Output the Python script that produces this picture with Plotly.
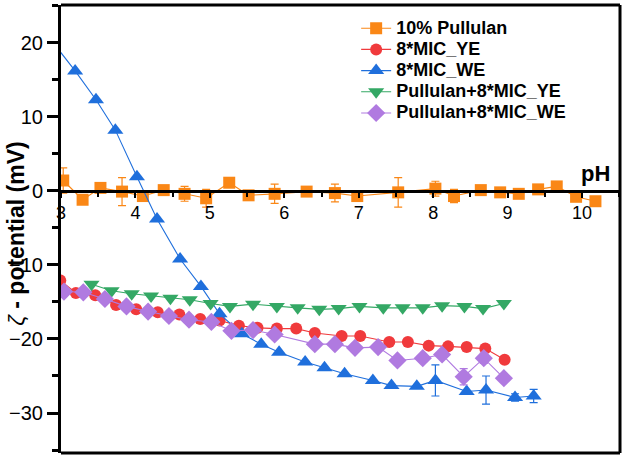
import plotly.graph_objects as go

# ---- data ----
ph_pul = [3.03, 3.29, 3.53, 3.82, 4.10, 4.38, 4.66, 4.95, 5.26, 5.52, 5.87, 6.30, 6.68, 6.98,
          7.53, 8.03, 8.28, 8.64, 8.90, 9.15, 9.41, 9.66, 9.92, 10.18]
zeta_pul = [1.4, -1.2, 0.4, -0.1, -0.7, 0.1, -0.4, -1.0, 1.1, -0.6, -0.4, -0.1, -0.3, -0.7,
            -0.2, 0.3, -0.7, 0.1, -0.2, -0.4, 0.2, 0.6, -0.8, -1.4]
err_pul = [1.7, 0, 0, 1.9, 0, 0, 1.0, 1.2, 0, 0, 1.3, 0, 1.2, 0,
           2.0, 1.0, 0.9, 0.5, 0, 0, 0, 0, 0, 0]

ph_ye = [2.99, 3.20, 3.46, 3.74, 4.01, 4.30, 4.59, 4.87, 5.13, 5.39, 5.64, 5.90, 6.16, 6.41,
         6.77, 7.02, 7.41, 7.66, 7.94, 8.20, 8.45, 8.70, 8.96]
zeta_ye = [-12.1, -13.8, -14.1, -15.4, -16.0, -16.4, -16.7, -17.3, -17.5, -18.2, -18.5, -18.6,
           -18.6, -19.2, -19.6, -19.6, -20.4, -20.4, -20.9, -21.0, -21.1, -21.3, -22.8]

ph_we = [2.88, 3.19, 3.47, 3.73, 4.02, 4.29, 4.60, 4.88, 5.13, 5.43, 5.69, 5.93, 6.28, 6.54,
         6.81, 7.19, 7.44, 7.78, 8.03, 8.45, 8.71, 9.10, 9.35]
zeta_we = [20.2, 16.2, 12.3, 8.2, 1.9, -3.8, -9.2, -12.9, -16.6, -19.3, -20.7, -21.8, -23.1,
           -23.9, -24.7, -25.6, -26.3, -26.4, -25.6, -27.1, -26.9, -27.9, -27.7]
err_we = [0, 0, 0, 0, 0, 0, 0, 0, 0, 0, 0, 0, 0, 0, 0, 0, 0, 0, 2.1, 0, 1.9, 0.5, 0.9]

ph_pye = [3.41, 3.68, 3.95, 4.21, 4.47, 4.73, 5.01, 5.27, 5.58, 5.90, 6.18, 6.47, 6.73, 7.01,
          7.33, 7.59, 7.86, 8.12, 8.42, 8.67, 8.95]
zeta_pye = [-12.6, -13.5, -13.9, -14.2, -14.5, -14.7, -15.2, -15.6, -15.3, -15.6, -15.8, -16.0,
            -15.9, -15.6, -15.8, -15.8, -15.8, -15.5, -15.6, -15.9, -15.2]

ph_pwe = [3.04, 3.30, 3.59, 3.88, 4.17, 4.45, 4.72, 5.02, 5.29, 5.58, 5.87, 6.41, 6.68, 6.95,
          7.26, 7.52, 7.86, 8.12, 8.41, 8.68, 8.95]
zeta_pwe = [-13.6, -13.7, -14.6, -15.6, -16.3, -16.9, -17.4, -17.7, -18.9, -18.8, -19.4, -20.7,
            -20.7, -21.2, -21.1, -22.9, -22.6, -22.1, -25.1, -22.6, -25.3]
err_pwe = [0, 0, 0, 0, 0, 0, 0, 0, 0, 0, 0, 0, 0, 0, 0, 0, 0, 0, 1.1, 0.7, 0]

names = ["10% Pullulan", "8*MIC_YE", "8*MIC_WE", "Pullulan+8*MIC_YE", "Pullulan+8*MIC_WE"]
colors = ["#FA8716", "#F03A3C", "#1F6FDC", "#34A865", "#B07AE0"]
symbols = ["square", "circle", "triangle-up", "triangle-down", "diamond"]
sizes = [12, 12, 14, 14, 14]

series = [(ph_pul, zeta_pul, err_pul), (ph_ye, zeta_ye, None), (ph_we, zeta_we, err_we),
          (ph_pye, zeta_pye, None), (ph_pwe, zeta_pwe, err_pwe)]

FONT = "Liberation Sans, Arial, sans-serif"
fig = go.Figure()
for (x, y, e), n, c, s, sz in zip(series, names, colors, symbols, sizes):
    kw = {}
    if e is not None:
        kw["error_y"] = dict(type="data", array=e, visible=True, color=c, thickness=1.2, width=4)
    fig.add_trace(go.Scatter(
        x=x, y=y, name='<span style="font-size:18px"><b>%s</b></span>' % n,
        mode="lines+markers",
        line=dict(color=c, width=1.1),
        marker=dict(symbol=s, size=sz, color=c, line=dict(width=0)),
        **kw))

YMIN, YMAX = -35.4, 25.1
fig.update_layout(
    width=625, height=458,
    margin=dict(l=61, r=5, t=5, b=5),
    paper_bgcolor="white", plot_bgcolor="white",
    font=dict(family=FONT, color="black"),
    showlegend=True,
    legend=dict(x=0.528, y=0.983, xanchor="left", yanchor="top",
                bgcolor="rgba(0,0,0,0)", borderwidth=0,
                font=dict(family=FONT, size=14, color="black"),
                itemwidth=30, tracegroupgap=0),
    xaxis=dict(range=[3, 10.51], anchor="free", position=(0 - YMIN) / (YMAX - YMIN),
               showline=True, linecolor="black", linewidth=2.5,
               ticks="outside", ticklen=5, tickwidth=2, tickcolor="black",
               tickmode="linear", tick0=3, dtick=1,
               minor=dict(ticks="outside", ticklen=4, tickwidth=2, dtick=0.5, tickcolor="black"),
               tickfont=dict(family=FONT, size=18, color="black"),
               showgrid=False, zeroline=False),
    yaxis=dict(range=[YMIN, YMAX], showline=True, linecolor="black", linewidth=3,
               ticks="outside", ticklen=11, tickwidth=2.5, tickcolor="black",
               tickmode="linear", tick0=0, dtick=10,
               minor=dict(ticks="outside", ticklen=6, tickwidth=2.5, dtick=5, tickcolor="black"),
               tickfont=dict(family=FONT, size=20, color="black"),
               showgrid=False, zeroline=False),
)

# frame (top, right, bottom)
for x0, y0, x1, y1 in [(0, 1, 1, 1), (1, 0, 1, 1), (0, 0, 1, 0)]:
    fig.add_shape(type="line", xref="paper", yref="paper", x0=x0, y0=y0, x1=x1, y1=y1,
                  line=dict(color="black", width=3))

fig.add_annotation(text="<b>pH</b>", xref="paper", yref="y", x=0.985, y=0.4,
                   xanchor="right", yanchor="bottom", showarrow=False,
                   font=dict(family=FONT, size=22, color="black"))
fig.add_annotation(text="<i>ζ</i><b> - potential (mV)</b>", xref="paper", yref="paper",
                   x=-0.08, y=0.49, xanchor="center", yanchor="middle", textangle=-90,
                   showarrow=False, font=dict(family=FONT, size=23, color="black"))

fig.write_html("out.html")
